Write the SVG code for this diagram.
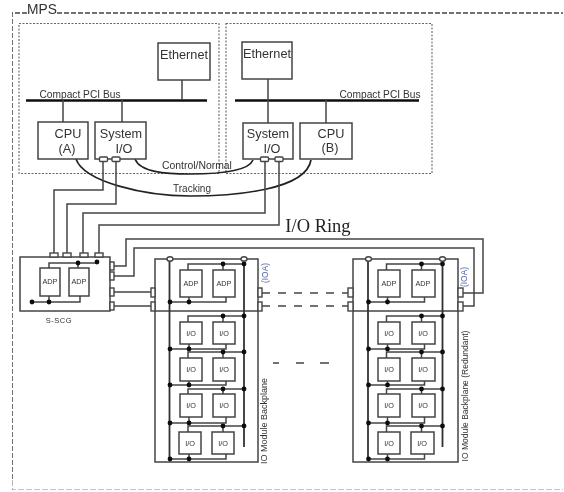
<svg xmlns="http://www.w3.org/2000/svg" xmlns:xlink="http://www.w3.org/1999/xlink" width="564" height="492" viewBox="0 0 564 492">
<style>
.box{fill:none;stroke:#444;stroke-width:1.5}
.wbox{fill:#fff;stroke:#444;stroke-width:1.4}
.thick{fill:none;stroke:#333;stroke-width:1.8}
.wire{fill:none;stroke:#444;stroke-width:1.5}
.curve{fill:none;stroke:#222;stroke-width:1.7}
.bus{fill:none;stroke:#111;stroke-width:2.4}
.outer{fill:none;stroke:#444;stroke-width:1.5;stroke-dasharray:5 2}
.faint{fill:none;stroke:#888;stroke-width:1.2;stroke-dasharray:6 2}
.dotted{fill:none;stroke:#666;stroke-width:1.1;stroke-dasharray:2 1.5}
.dash{fill:none;stroke:#444;stroke-width:1.5;stroke-dasharray:8 8}
.dot{fill:#111}
.t{font-family:"Liberation Sans",Arial,sans-serif;fill:#333;text-anchor:middle}
.s10{font-size:10.2px}.s13{font-size:12.7px}.s7{font-size:7.3px}.s9{font-size:9px}
</style>
<defs>
<g id="bpwires">
<path class="thick" d="M169.5 259V460M244 259V447"/>
<path class="wire" d="M188 270V264H244M223 264V270M170 302H226V297M189 302V297"/>
<path class="wire" d="M188 322V316H244M223 316V322M170 349H226V344M189 349V344"/>
<path class="wire" d="M188 358V352H244M223 352V358M170 385H226V381M189 385V381"/>
<path class="wire" d="M188 394V389H244M223 389V394M170 423H226V417M189 423V417"/>
<path class="wire" d="M188 432V426H244M223 426V432M170 459H226V454M189 459V454"/>
<g class="dot">
<circle cx="223" cy="264" r="2.4"/><circle cx="244" cy="264" r="2.4"/><circle cx="170" cy="302" r="2.4"/><circle cx="189" cy="302" r="2.4"/>
<circle cx="223" cy="316" r="2.4"/><circle cx="244" cy="316" r="2.4"/><circle cx="170" cy="349" r="2.4"/><circle cx="189" cy="349" r="2.4"/>
<circle cx="223" cy="352" r="2.4"/><circle cx="244" cy="352" r="2.4"/><circle cx="170" cy="385" r="2.4"/><circle cx="189" cy="385" r="2.4"/>
<circle cx="223" cy="389" r="2.4"/><circle cx="244" cy="389" r="2.4"/><circle cx="170" cy="423" r="2.4"/><circle cx="189" cy="423" r="2.4"/>
<circle cx="223" cy="426" r="2.4"/><circle cx="244" cy="426" r="2.4"/><circle cx="170" cy="459" r="2.4"/><circle cx="189" cy="459" r="2.4"/>
</g>
<ellipse class="wbox" cx="170" cy="259" rx="3" ry="2.2"/><ellipse class="wbox" cx="244" cy="259" rx="3" ry="2.2"/>
</g>
<filter id="soft" x="0" y="0" width="100%" height="100%"><feGaussianBlur stdDeviation="0.35"/></filter>
</defs>
<rect width="564" height="492" fill="#fff"/>
<g filter="url(#soft)">
<g id="mps">
<path class="outer" d="M27 13H12V480M57 13H563"/>
<path class="faint" d="M12 480V490H563"/>
<text class="t" x="42" y="14" font-size="13.8">MPS</text>
</g>
<g id="side-a"><rect class="dotted" x="19" y="23.5" width="200" height="150"/></g>
<g id="side-b"><rect class="dotted" x="226" y="23.5" width="206" height="150"/></g>

<g id="connectors">
<path class="bus" d="M26 100.5H207M235 100.5H419"/>
<path class="wire" d="M182 80V100M63 100V122M122 100V122M268 79V123M326 100V123"/>
<path class="curve" d="M135 159C140 172 165 174 190 174C215 174 248 172 253 160"/>
<path class="curve" d="M76 159C84 182 145 196 190 196C235 196 306 190 311 160"/>
<path class="wire" d="M103 161V190H54V253M116 161V204H67V253M265 161V213H83V253M279 161V225H99V253"/>
<path class="wire" d="M114 266H126V239H483V293H462M114 276H134V248H474V306H462"/>
<path class="wire" d="M114 292H151M114 306H151"/>
<path class="dash" d="M262 293H348M262 306H348"/>
<path class="wire" d="M273 363H279M296 363H304M320 363H329"/>
</g>

<g id="ethernet-a"><rect class="box" x="158" y="43" width="52" height="37"/><text class="t s13" x="184" y="59">Ethernet</text></g>
<g id="ethernet-b"><rect class="box" x="242" y="42" width="50" height="37"/><text class="t s13" x="267" y="58">Ethernet</text></g>
<text class="t s10" x="80" y="98">Compact PCI Bus</text>
<text class="t s10" x="380" y="98">Compact PCI Bus</text>
<g id="cpu-a"><rect class="box" x="38" y="122" width="50" height="37"/><text class="t s13" x="68" y="138">CPU</text><text class="t s13" x="67" y="153">(A)</text></g>
<g id="sysio-a"><rect class="box" x="95" y="122" width="51" height="37"/><text class="t s13" x="121" y="138">System</text><text class="t s13" x="124" y="153">I/O</text>
<rect class="wbox" x="99.500" y="157" width="8" height="4.500" rx="1"/><rect class="wbox" x="112" y="157" width="8" height="4.500" rx="1"/></g>
<g id="sysio-b"><rect class="box" x="243" y="123" width="50" height="36"/><text class="t s13" x="268" y="138">System</text><text class="t s13" x="272" y="153">I/O</text>
<rect class="wbox" x="260.500" y="157" width="8" height="4.500" rx="1"/><rect class="wbox" x="275" y="157" width="8" height="4.500" rx="1"/></g>
<g id="cpu-b"><rect class="box" x="300" y="123" width="52" height="36"/><text class="t s13" x="331" y="138">CPU</text><text class="t s13" x="330" y="152">(B)</text></g>
<text class="t" x="197" y="169" font-size="10.400">Control/Normal</text>
<text class="t" x="192" y="192" font-size="10">Tracking</text>
<text class="t" x="318" y="232" font-size="18.500" style="font-family:'Liberation Serif',serif;fill:#222">I/O Ring</text>

<g id="s-scg">
<rect class="box" x="20" y="257" width="90" height="54"/>
<g class="ports"><rect class="wbox" x="50" y="253" width="8" height="4"/><rect class="wbox" x="63" y="253" width="8" height="4"/><rect class="wbox" x="80" y="253" width="8" height="4"/><rect class="wbox" x="95" y="253" width="8" height="4"/>
<rect class="wbox" x="110" y="262" width="4" height="8"/><rect class="wbox" x="110" y="272" width="4" height="8"/><rect class="wbox" x="110" y="288" width="4" height="8"/><rect class="wbox" x="110" y="302" width="4" height="8"/></g>
<path class="wire" d="M49 268V263H97M78 263V268M32 302H80V296M49 302V296"/>
<g class="dot"><circle cx="78" cy="263" r="2.4"/><circle cx="97" cy="262" r="2.4"/><circle cx="32" cy="302" r="2.4"/><circle cx="49" cy="302" r="2.4"/></g>
<rect class="box" x="40" y="268" width="20" height="28"/><text class="t s7" x="50" y="284">ADP</text>
<rect class="box" x="69" y="268" width="20" height="28"/><text class="t s7" x="79" y="284">ADP</text>
<text class="t" x="59" y="323" font-size="7.500" letter-spacing="0.5">S-SCG</text>
</g>

<g id="backplane-a">
<rect class="box" x="155" y="259" width="103" height="203"/>
<path class="box" d="M155 311H258"/>
<rect class="wbox" x="151" y="288" width="4" height="9"/><rect class="wbox" x="151" y="302" width="4" height="9"/>
<rect class="wbox" x="258" y="288" width="4" height="9"/><rect class="wbox" x="258" y="302" width="4" height="9"/>
<use href="#bpwires" xlink:href="#bpwires"/>
<g id="a-adp1"><rect class="box" x="180" y="270" width="22" height="27"/><text class="t s7" x="191" y="286">ADP</text></g>
<g id="a-adp2"><rect class="box" x="213" y="270" width="22" height="27"/><text class="t s7" x="224" y="286">ADP</text></g>
<g id="a-io1"><rect class="box" x="180" y="322" width="22" height="22"/><text class="t s7" x="191" y="336">I/O</text></g>
<g id="a-io2"><rect class="box" x="213" y="322" width="22" height="22"/><text class="t s7" x="224" y="336">I/O</text></g>
<g id="a-io3"><rect class="box" x="180" y="358" width="22" height="23"/><text class="t s7" x="191" y="372">I/O</text></g>
<g id="a-io4"><rect class="box" x="213" y="358" width="22" height="23"/><text class="t s7" x="224" y="372">I/O</text></g>
<g id="a-io5"><rect class="box" x="180" y="394" width="22" height="23"/><text class="t s7" x="191" y="408">I/O</text></g>
<g id="a-io6"><rect class="box" x="213" y="394" width="22" height="23"/><text class="t s7" x="224" y="408">I/O</text></g>
<g id="a-io7"><rect class="box" x="179" y="432" width="22" height="22"/><text class="t s7" x="190" y="446">I/O</text></g>
<g id="a-io8"><rect class="box" x="212" y="432" width="22" height="22"/><text class="t s7" x="223" y="446">I/O</text></g>
<text font-size="8.400" transform="translate(268 273) rotate(-90)" style="font-family:'Liberation Sans',sans-serif;fill:#5566aa;text-anchor:middle">(IOA)</text>
<text class="t s9" transform="translate(267 421) rotate(-90)">IO Module Backplane</text>
</g>

<g id="backplane-b">
<rect class="box" x="353" y="259" width="105" height="203"/>
<path class="box" d="M353 311H458"/>
<rect class="wbox" x="348" y="288" width="5" height="9"/><rect class="wbox" x="348" y="302" width="5" height="9"/>
<rect class="wbox" x="458" y="288" width="5" height="9"/><rect class="wbox" x="458" y="302" width="5" height="9"/>
<use href="#bpwires" xlink:href="#bpwires" transform="translate(198.500 0)"/>
<g id="b-adp1"><rect class="box" x="378" y="270" width="22" height="27"/><text class="t s7" x="389" y="286">ADP</text></g>
<g id="b-adp2"><rect class="box" x="412" y="270" width="23" height="27"/><text class="t s7" x="423" y="286">ADP</text></g>
<g id="b-io1"><rect class="box" x="378" y="322" width="22" height="22"/><text class="t s7" x="389" y="336">I/O</text></g>
<g id="b-io2"><rect class="box" x="412" y="322" width="23" height="22"/><text class="t s7" x="423" y="336">I/O</text></g>
<g id="b-io3"><rect class="box" x="378" y="358" width="22" height="23"/><text class="t s7" x="389" y="372">I/O</text></g>
<g id="b-io4"><rect class="box" x="412" y="358" width="23" height="23"/><text class="t s7" x="423" y="372">I/O</text></g>
<g id="b-io5"><rect class="box" x="378" y="394" width="22" height="23"/><text class="t s7" x="389" y="408">I/O</text></g>
<g id="b-io6"><rect class="box" x="412" y="394" width="23" height="23"/><text class="t s7" x="423" y="408">I/O</text></g>
<g id="b-io7"><rect class="box" x="378" y="432" width="22" height="22"/><text class="t s7" x="389" y="446">I/O</text></g>
<g id="b-io8"><rect class="box" x="411" y="432" width="23" height="22"/><text class="t s7" x="422" y="446">I/O</text></g>
<text font-size="8.400" transform="translate(467 277) rotate(-90)" style="font-family:'Liberation Sans',sans-serif;fill:#5566aa;text-anchor:middle">(IOA)</text>
<text class="t" font-size="8.500" transform="translate(468 396) rotate(-90)">IO Module Backplane (Redundant)</text>
</g>
</g>
</svg>
